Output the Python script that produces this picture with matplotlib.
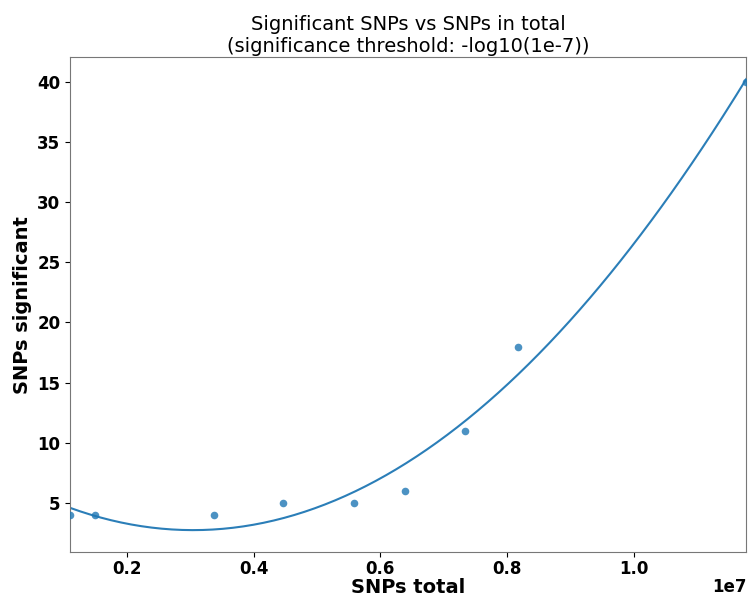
import matplotlib
matplotlib.use('Agg')
import matplotlib.pyplot as plt
import numpy as np

# SNP counts
snps_total = [1.10e6, 1.50e6, 3.37e6, 4.47e6, 5.59e6, 6.39e6, 7.34e6, 8.17e6, 1.178e7]
snps_significant = [4, 4, 4, 5, 5, 6, 11, 18, 40]

x = np.array(snps_total)
y = np.array(snps_significant)
coef = np.polyfit(x, y, 2)
xs = np.linspace(x.min(), x.max(), 200)

fig, ax = plt.subplots(figsize=(7.5, 5.98), dpi=100)
ax.scatter(x, y, s=30, color='#1f77b4', alpha=0.8, linewidths=0, zorder=3)
ax.plot(xs, np.polyval(coef, xs), color='#1f77b4', lw=1.5, alpha=0.95)

ax.set_xlim(x.min(), x.max())
ax.set_ylim(0.95, 42)
ax.set_title('Significant SNPs vs SNPs in total\n(significance threshold: -log10(1e-7))',
             fontsize=14, pad=4)
ax.set_xlabel('SNPs total', fontsize=14, fontweight='bold', labelpad=0)
ax.set_ylabel('SNPs significant', fontsize=14, fontweight='bold', labelpad=4)
ax.tick_params(labelsize=12)
ax.tick_params(axis='x', pad=2)
for lab in ax.get_xticklabels() + ax.get_yticklabels():
    lab.set_fontweight('bold')

# scale the x ticks by 1e7 and place the multiplier label by hand
ax.xaxis.get_offset_text().set_visible(False)
ax.text(1.0, -0.052, '1e7', transform=ax.transAxes, ha='right', va='top',
        fontsize=12, fontweight='bold')

for sp in ax.spines.values():
    sp.set_color('#777777')
    sp.set_linewidth(0.8)

plt.subplots_adjust(left=0.0933, right=0.995, top=0.904, bottom=0.077)
plt.savefig('out.png')
